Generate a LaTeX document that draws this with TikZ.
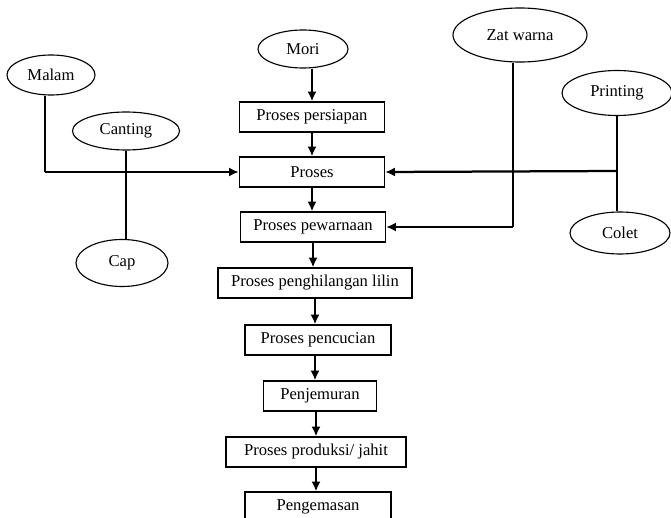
\documentclass[tikz,border=0pt]{standalone}
\usepackage{fontspec}
\setmainfont{Liberation Serif}
\usepackage{tikz}
\usetikzlibrary{shapes.geometric,arrows.meta}

\begin{document}
\begin{tikzpicture}[x=0.025cm,y=-0.025cm,>={Latex[length=7pt,width=6.5pt]},
        box/.style={draw=black,line width=0.9pt,minimum height=0.75cm,inner sep=0pt,font=\fontsize{11.8}{14}\selectfont},
        oval/.style={draw=black,ellipse,line width=0.8pt,inner sep=0pt,font=\fontsize{11.8}{14}\selectfont},
        arr/.style={->,line width=1.6pt},
        thinline/.style={line width=0.8pt}]
        \useasboundingbox (0,0) rectangle (671,518);

        % bahan dan alat
        \node[oval,minimum width=2.2cm,minimum height=1cm] (malam) at (51,75) {Malam};
        \node[oval,minimum width=2.25cm,minimum height=0.95cm] (mori) at (303,49) {Mori};
        \node[oval,minimum width=2.675cm,minimum height=0.95cm] (canting) at (126,131) {Canting};
        \node[oval,minimum width=2.3cm,minimum height=1.175cm] (cap) at (122,263) {Cap};
        \node[oval,minimum width=3.35cm,minimum height=1.35cm] (zatwarna) at (520,35) {Zat warna};
        \node[oval,minimum width=2.75cm,minimum height=1.125cm] (printing) at (617,93) {Printing};
        \node[oval,minimum width=2.5cm,minimum height=1.05cm] (colet) at (620,233) {Colet};

        % tahapan proses
        \node[box,minimum width=3.625cm] (persiapan) at (312,117) {Proses persiapan};
        \node[box,minimum width=3.625cm] (proses) at (312,172) {Proses};
        \node[box,minimum width=3.625cm] (pewarnaan) at (313,227) {Proses pewarnaan};
        \node[box,minimum width=4.85cm] (penghilangan) at (315,283) {Proses penghilangan lilin};
        \node[box,minimum width=3.65cm] (pencucian) at (318,340) {Proses pencucian};
        \node[box,minimum width=2.825cm] (penjemuran) at (320,396) {Penjemuran};
        \node[box,minimum width=4.5cm] (produksi) at (316,452) {Proses produksi/ jahit};
        \node[box,minimum width=3.65cm] (pengemasan) at (318,507) {Pengemasan};

        \coordinate (malamturn) at (45,172);
        \coordinate (zatturn) at (513,227);
        \coordinate (printturn) at (617,171);

        \path [arr](mori.south -| persiapan) edge (persiapan.north);
        \path [arr](persiapan) edge (proses);
        \path [arr](proses.south) edge (proses.south |- pewarnaan.north);
        \path [arr](pewarnaan.south) edge (pewarnaan.south |- penghilangan.north);
        \path [arr](penghilangan.south) edge (penghilangan.south |- pencucian.north);
        \path [arr](pencucian.south -| penghilangan) edge (penghilangan |- penjemuran.north);
        \path [arr](penjemuran.south -| produksi) edge (produksi.north);
        \path [arr](produksi.south) edge (pengemasan.north -| produksi);

        \path [thinline](malamturn |- malam.south) edge (malamturn);
        \path [arr](malamturn) edge (proses.west);
        \path [thinline](canting.south) edge (canting.south |- cap.north);
        \path [thinline](zatturn |- zatwarna.south) edge (zatturn);
        \path [arr](zatturn) edge (pewarnaan.east);
        \path [thinline](printing.south) edge (colet.north -| printing);
        \path [arr](printturn) edge (proses.east);
    \end{tikzpicture}
\end{document}
